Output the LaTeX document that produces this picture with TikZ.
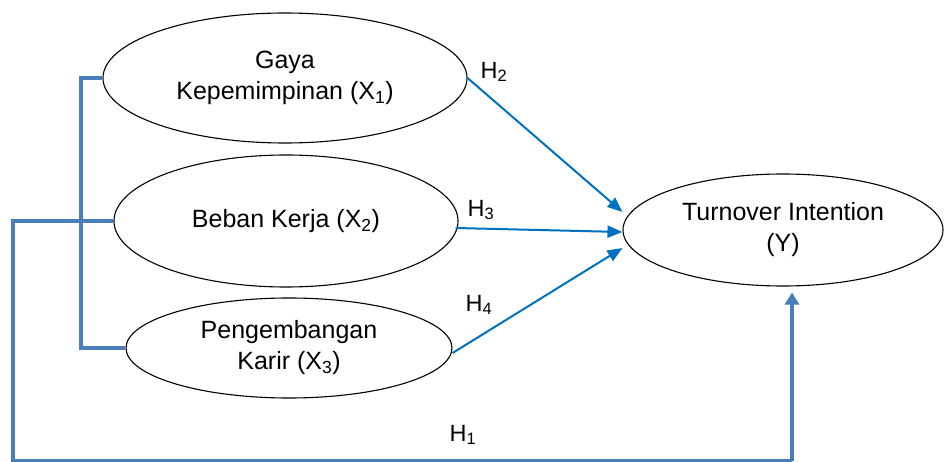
\documentclass[tikz,border=0pt]{standalone}
\usepackage{fontspec}
\setmainfont{Liberation Sans}
\usetikzlibrary{shapes.geometric,arrows.meta,calc}
\definecolor{thinblue}{HTML}{0070C0}
\definecolor{thickblue}{HTML}{4A7EBB}
\begin{document}
\begin{tikzpicture}[x=1pt,y=-1pt,
  var/.style={draw=black,line width=1.1pt,ellipse,inner sep=0pt,align=center,
    font=\fontsize{25}{31}\selectfont},
  hyp/.style={font=\fontsize{23.5}{28}\selectfont,inner sep=0pt},
  thinarrow/.style={draw=thinblue,line width=2pt,-{Triangle[length=15pt,width=12pt]}},
  thickline/.style={draw=thickblue,line width=4pt},
  thickarrow/.style={draw=thickblue,line width=4pt,-{Triangle[length=12pt,width=14pt]}}]
\useasboundingbox (0,0) rectangle (945,462);
\node[var,minimum width=364pt,minimum height=130pt] (x1) at (285,78) {Gaya\\Kepemimpinan (X\textsubscript{1})};
\node[var,minimum width=344pt,minimum height=132pt] (x2) at (286,221) {Beban Kerja (X\textsubscript{2})};
\node[var,minimum width=326pt,minimum height=100pt] (x3) at (289,348) {Pengembangan\\Karir (X\textsubscript{3})};
\node[var,minimum width=320pt,minimum height=112pt] (y) at (783,230) {Turnover Intention\\(Y)};
% labels
\node[hyp] (h2) at (494,72) {H\textsubscript{2}};
\node[hyp] (h3) at (481,210) {H\textsubscript{3}};
\node[hyp] (h4) at (479,305) {H\textsubscript{4}};
\node[hyp] (h1) at (463,435) {H\textsubscript{1}};
% thin arrows
\coordinate (e2) at ($(y.west)+(0,-18)$);
\coordinate (s3) at ($(x2.east)+(-3,7)$);
\coordinate (e3) at ($(y.west)+(0,2)$);
\coordinate (e4) at ($(y.west)+(0,18)$);
\coordinate (s4) at ($(x3.east)+(0,5)$);
\draw[thinarrow] (x1.east) -- (e2);
\draw[thinarrow] (s3) -- (e3);
\draw[thinarrow] (s4) -- (e4);
% bracket
\coordinate (bt) at (81,78);
\coordinate (bb) at (81,348);
\draw[thickline] (x1.west) -- (bt) -- (bb) -- (x3.west);
% H1 path
\coordinate (lt) at (13,221);
\coordinate (lb) at (13,461);
\coordinate (rb) at (792,461);
\coordinate (h1end) at ($(y.south)+(9,6)$);
\draw[thickline,line join=miter] (x2.west) -- (lt) -- (lb) -- (rb);
\draw[thickarrow] (rb) -- (h1end);
\end{tikzpicture}
\end{document}
